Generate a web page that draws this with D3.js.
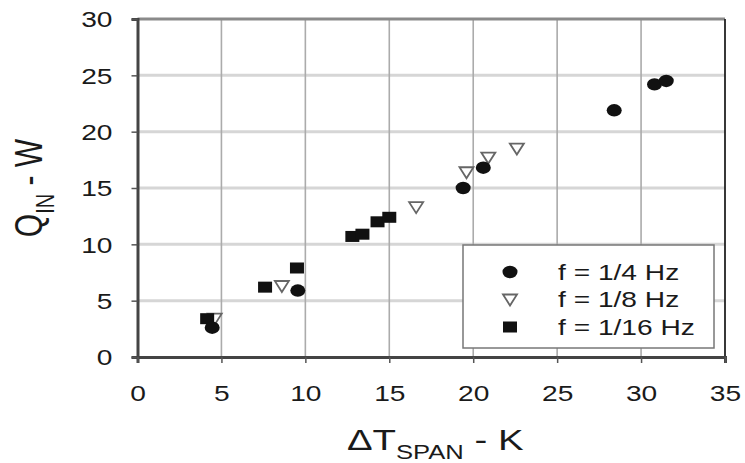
<!DOCTYPE html>
<html>
<head>
<meta charset="utf-8">
<script src="https://cdn.jsdelivr.net/npm/d3@7"></script>
<style>
  html, body { margin: 0; padding: 0; background: #fff; }
  svg { display: block; }
  text { font-family: "Liberation Sans", Arial, sans-serif; fill: #1a1a1a; }
</style>
</head>
<body>
<svg id="chart" width="745" height="463"></svg>
<script>
// Heat input vs. temperature span for three cycle frequencies
const freqQuarter = [[4.45, 2.6], [9.55, 5.9], [19.4, 15.0], [20.6, 16.8], [28.4, 21.9], [30.8, 24.2], [31.5, 24.5]];
const freqEighth = [[4.6, 3.4], [8.6, 6.3], [16.6, 13.3], [19.6, 16.4], [20.9, 17.7], [22.6, 18.5]];
const freqSixteenth = [[4.15, 3.4], [7.6, 6.2], [9.5, 7.9], [12.8, 10.7], [13.4, 10.9], [14.3, 12.0], [15.0, 12.4]];
const xTicks = [0, 5, 10, 15, 20, 25, 30, 35];
const yTicks = [0, 5, 10, 15, 20, 25, 30];
const legendLabels = ["f = 1/4 Hz", "f = 1/8 Hz", "f = 1/16 Hz"];

const W = 745, H = 463;
const m = { left: 137.5, right: 20, top: 19, bottom: 106 };
const SX = 1.28; // horizontal text stretch

const svg = d3.select("#chart");
const x = d3.scaleLinear().domain([0, 35]).range([m.left, W - m.right]);
const y = d3.scaleLinear().domain([0, 30]).range([H - m.bottom, m.top]);

// grid
svg.append("g").selectAll("line").data(yTicks.slice(1, -1)).join("line")
  .attr("x1", x(0)).attr("x2", x(35))
  .attr("y1", d => y(d)).attr("y2", d => y(d))
  .attr("stroke", "#d6d6d6").attr("stroke-width", 3);
svg.append("g").selectAll("line").data(xTicks.slice(1, -1)).join("line")
  .attr("y1", y(0)).attr("y2", y(30))
  .attr("x1", d => x(d)).attr("x2", d => x(d))
  .attr("stroke", "#ababab").attr("stroke-width", 1.6);

// frame
svg.append("line").attr("x1", x(0)).attr("x2", x(35)).attr("y1", y(30)).attr("y2", y(30))
  .attr("stroke", "#8a8a8a").attr("stroke-width", 3);
svg.append("line").attr("x1", x(35)).attr("x2", x(35)).attr("y1", y(30)).attr("y2", y(0))
  .attr("stroke", "#222").attr("stroke-width", 1.8);

// axes
const yAxis = svg.append("g").attr("transform", `translate(${x(0)},0)`)
  .call(d3.axisLeft(y).tickValues(yTicks).tickSize(6).tickPadding(0));
const xAxis = svg.append("g").attr("transform", `translate(0,${y(0)})`)
  .call(d3.axisBottom(x).tickValues(xTicks).tickSize(6).tickPadding(0));
[yAxis, xAxis].forEach(a => {
  a.select(".domain").attr("stroke", "#444").attr("stroke-width", 3);
  a.selectAll(".tick line").attr("stroke", "#555").attr("stroke-width", 1.5);
  a.selectAll("text").attr("font-size", 22).attr("fill", "#1a1a1a")
    .attr("font-family", "Liberation Sans, Arial, sans-serif");
});
yAxis.selectAll(".tick text").attr("x", -25 / SX).attr("dy", "0.36em")
  .attr("transform", `scale(${SX},1)`);
xAxis.selectAll(".tick text").attr("y", 0).attr("dy", 0)
  .attr("transform", `translate(0,44) scale(${SX},1)`);

// axis titles
const xt = svg.append("text").attr("text-anchor", "middle").attr("font-size", 30)
  .attr("transform", `translate(${(x(0) + x(35)) / 2 + 4},450) scale(${SX},1)`);
xt.append("tspan").text("\u0394T");
xt.append("tspan").attr("font-size", 20).attr("dy", 9).text("SPAN");
xt.append("tspan").attr("dy", -9).text(" - K");

const yt = svg.append("text").attr("text-anchor", "middle").attr("font-size", 30)
  .attr("transform", `translate(42,188) rotate(-90) scale(1,${SX})`);
yt.append("tspan").text("Q");
yt.append("tspan").attr("font-size", 20).attr("dy", 9).text("IN");
yt.append("tspan").attr("dy", -9).text(" - W");

// marker shapes
const drawCircle = (g, cx, cy) => g.append("ellipse").attr("cx", cx).attr("cy", cy)
  .attr("rx", 7.5).attr("ry", 6.2).attr("fill", "#111");
const drawTri = (g, cx, cy) => g.append("path")
  .attr("d", `M${cx - 7},${cy - 5}L${cx + 7},${cy - 5}L${cx},${cy + 6}Z`)
  .attr("fill", "none").attr("stroke", "#666").attr("stroke-width", 1.8);
const drawSq = (g, cx, cy) => g.append("rect").attr("x", cx - 7).attr("y", cy - 5.5)
  .attr("width", 14).attr("height", 11).attr("fill", "#111");

const pts = svg.append("g");
freqEighth.forEach(d => drawTri(pts, x(d[0]), y(d[1])));
freqSixteenth.forEach(d => drawSq(pts, x(d[0]), y(d[1])));
freqQuarter.forEach(d => drawCircle(pts, x(d[0]), y(d[1])));

// legend
const lg = svg.append("g");
lg.append("rect").attr("x", 463).attr("y", 245).attr("width", 251).attr("height", 103)
  .attr("fill", "#fff").attr("stroke", "#777").attr("stroke-width", 1.5);
const drawers = [drawCircle, drawTri, drawSq];
legendLabels.forEach((t, i) => {
  const cy = 272 + i * 27.5;
  drawers[i](lg, 510, cy);
  lg.append("text").attr("font-size", 22).attr("dy", "0.36em")
    .attr("transform", `translate(558,${cy}) scale(${SX},1)`).text(t);
});
</script>
</body>
</html>
